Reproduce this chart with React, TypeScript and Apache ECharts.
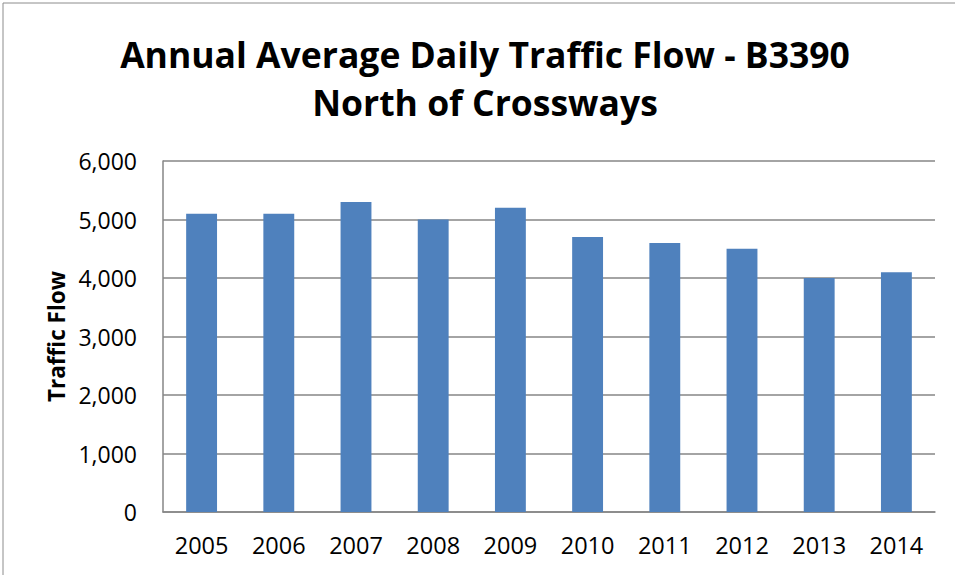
import React, { useEffect, useRef } from "react";
import * as echarts from "echarts";

const titleLines = ["Annual Average Daily Traffic Flow - B3390", "North of Crossways"];
const years = ["2005", "2006", "2007", "2008", "2009", "2010", "2011", "2012", "2013", "2014"];
const traffic = [5100, 5100, 5300, 5000, 5200, 4700, 4600, 4500, 4000, 4100];
const yAxisName = "Traffic Flow";

export default function App() {
  const ref = useRef<HTMLDivElement>(null);
  useEffect(() => {
    if (!ref.current) return;
    const chart = echarts.init(ref.current, null, { renderer: "svg" });
    const font = "'Open Sans', 'Noto Sans', sans-serif";
    chart.setOption({
      animation: false,
      backgroundColor: "#ffffff",
      graphic: [
        {
          type: "rect",
          shape: { x: 3, y: 3, width: 1000, height: 600 },
          style: { fill: "none", stroke: "#8c8c8c", lineWidth: 1 },
          silent: true,
        },
        {
          type: "text",
          x: 485,
          y: 78,
          style: {
            text: titleLines.join("\n"),
            fontFamily: font,
            fontWeight: "bold",
            fontSize: 35.5,
            lineHeight: 48,
            fill: "#000",
            align: "center",
            verticalAlign: "middle",
          },
          silent: true,
        },
      ],
      grid: { left: 163, right: 20, top: 161, bottom: 63 },
      xAxis: {
        type: "category",
        data: years,
        axisLine: { show: true, lineStyle: { color: "#868686", width: 1.5 } },
        axisTick: { show: false },
        axisLabel: { fontFamily: font, fontSize: 23.5, color: "#000", margin: 21 },
      },
      yAxis: {
        type: "value",
        min: 0,
        max: 6000,
        interval: 1000,
        name: yAxisName,
        nameLocation: "middle",
        nameGap: 95,
        nameRotate: 90,
        nameTextStyle: { fontFamily: font, fontWeight: "bold", fontSize: 22.5, color: "#000" },
        axisLine: { show: true, lineStyle: { color: "#868686", width: 1.5 } },
        axisTick: { show: false },
        splitLine: { lineStyle: { color: "#868686", width: 1.5 } },
        axisLabel: {
          fontFamily: font,
          fontSize: 23,
          color: "#000",
          margin: 26,
          formatter: (v: number) => v.toLocaleString("en-US"),
        },
      },
      series: [
        {
          type: "bar",
          data: traffic,
          barWidth: "40%",
          itemStyle: { color: "#4f81bd" },
        },
      ],
    });
    return () => chart.dispose();
  }, []);
  return <div ref={ref} style={{ position: "fixed", left: 0, top: 0, width: 955, height: 575 }} />;
}
